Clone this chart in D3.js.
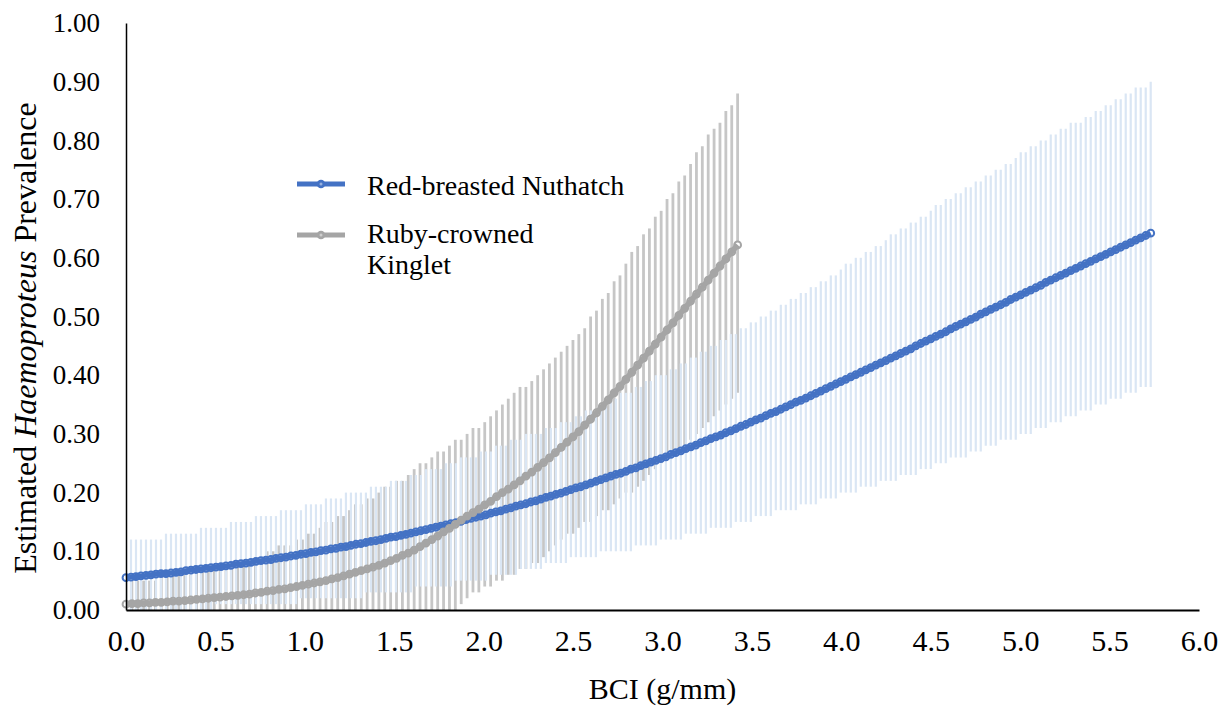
<!DOCTYPE html>
<html>
<head>
<meta charset="utf-8">
<script src="https://cdn.jsdelivr.net/npm/d3@7"></script>
<style>
  body { margin: 0; background: #fff; }
  text { font-family: "Liberation Serif", "Times New Roman", serif; fill: #000; }
</style>
</head>
<body>
<svg id="chart" width="1231" height="713"></svg>
<script>
// ---------------- data ----------------
const seriesNames = ["Red-breasted Nuthatch", "Ruby-crowned Kinglet"];
const xTickValues = [0, 0.5, 1, 1.5, 2, 2.5, 3, 3.5, 4, 4.5, 5, 5.5, 6];
const yTickValues = [0, 0.1, 0.2, 0.3, 0.4, 0.5, 0.6, 0.7, 0.8, 0.9, 1.0];
const xAxisTitle = "BCI (g/mm)";
const yAxisTitleParts = ["Estimated ", "Haemoproteus", " Prevalence"];

// evenly spaced BCI prediction grids: first and last BCI value of each series
const nuthatchBCIRange = [0, 5.73];
const kingletBCIRange = [0, 3.42];

const nuthatchMean = [
  .055,.056,.057,.058,.059,.060,.061,.062,.062,.063,.064,
  .065,.067,.068,.069,.070,.071,.072,.073,.074,.075,
  .076,.078,.079,.080,.081,.083,.084,.085,.086,.088,
  .089,.090,.092,.093,.095,.096,.098,.099,.101,.102,
  .104,.105,.107,.108,.110,.112,.113,.115,.117,.118,
  .120,.122,.124,.125,.127,.129,.131,.133,.135,.137,
  .139,.141,.143,.145,.147,.149,.151,.154,.156,.158,
  .160,.162,.165,.167,.169,.172,.174,.177,.179,.181,
  .184,.186,.189,.192,.194,.197,.199,.202,.205,.208,
  .210,.213,.216,.219,.222,.225,.228,.231,.233,.236,
  .240,.242,.246,.249,.252,.255,.258,.261,.265,.268,
  .271,.275,.278,.281,.285,.288,.292,.295,.298,.302,
  .305,.309,.313,.316,.320,.324,.327,.331,.335,.338,
  .342,.346,.350,.354,.357,.361,.365,.369,.373,.377,
  .381,.385,.389,.393,.397,.401,.405,.409,.413,.417,
  .421,.425,.429,.433,.437,.441,.445,.450,.454,.458,
  .462,.466,.470,.474,.479,.483,.487,.491,.495,.499,
  .504,.508,.512,.516,.520,.524,.529,.533,.537,.541,
  .545,.549,.553,.558,.562,.566,.570,.574,.578,.582,
  .586,.590,.594,.598,.602,.606,.610,.614,.618,.622,
  .626,.630,.634,.638,.642
];
const nuthatchUpper = [
  .11,
  .12,.12,.12,.12,.12,.12,.12,
  .13,.13,.13,.13,.13,.13,.13,
  .14,.14,.14,.14,.14,.14,
  .15,.15,.15,.15,.15,
  .16,.16,.16,.16,.16,
  .17,.17,.17,.17,.17,
  .18,.18,.18,.18,
  .19,.19,.19,.19,
  .20,.20,.20,.20,.20,
  .21,.21,.21,.21,
  .22,.22,.22,.22,
  .23,.23,.23,
  .24,.24,.24,.24,
  .25,.25,.25,
  .26,.26,.26,.26,
  .27,.27,.27,
  .28,.28,.28,
  .29,.29,.29,
  .30,.30,.30,.30,
  .31,.31,.31,
  .32,.32,.32,
  .33,.33,
  .34,.34,.34,
  .35,.35,
  .36,.36,
  .37,.37,.37,
  .38,.38,
  .39,.39,
  .40,.40,.40,
  .41,.41,.42,.42,.43,.43,.44,.44,.45,.45,.46,.46,.47,.47,.48,.48,.49,.49,
  .50,.50,.51,.51,.52,.52,.53,.53,.54,.54,.55,.55,.56,.56,.57,.57,
  .58,
  .59,.59,.60,.60,.61,.61,.62,.62,
  .63,
  .64,.64,.65,.65,.66,.66,.67,.67,
  .68,
  .69,.69,.70,.70,.71,.71,.72,.72,.73,.73,.74,.74,.75,.75,.76,.76,
  .77,
  .78,.78,.79,.79,.80,.80,.81,.81,.82,.82,
  .83,.83,.83,
  .84,.84,.85,.85,.86,.86,.87,.87,.88,.88,
  .89,.89,.89,
  .90
];
const nuthatchLower = [
  0,0,0,0,0,0,0,0,0,0,0,0,0,0,0,0,0,0,
  .01,.01,.01,.01,.01,.01,.01,.01,.01,.01,.01,.01,.01,.01,.01,.01,.01,
  .02,.02,.02,.02,.02,.02,.02,.02,.02,.02,.02,.02,.02,
  .03,.03,.03,.03,.03,.03,.03,.03,.03,.03,
  .04,.04,.04,.04,.04,.04,.04,.04,
  .05,.05,.05,.05,.05,.05,.05,
  .06,.06,.06,.06,.06,.06,
  .07,.07,.07,.07,.07,
  .08,.08,.08,.08,.08,
  .09,.09,.09,.09,.09,.09,
  .10,.10,.10,.10,.10,.10,.10,
  .11,.11,.11,.11,.11,
  .12,.12,.12,.12,.12,
  .13,.13,.13,.13,.13,
  .14,.14,.14,.14,.14,
  .15,.15,.15,.15,
  .16,.16,.16,.16,
  .17,.17,.17,.17,.17,
  .18,.18,.18,.18,
  .19,.19,.19,.19,
  .20,.20,.20,.20,
  .21,.21,.21,.21,
  .22,.22,.22,.22,
  .23,.23,.23,.23,
  .24,.24,.24,
  .25,.25,.25,
  .26,.26,.26,.26,
  .27,.27,.27,
  .28,.28,.28,
  .29,.29,.29,.29,
  .30,.30,.30,
  .31,.31,.31,
  .32,.32,.32,
  .33,.33,.33,
  .34,.34,.34,
  .35,.35,.35,
  .36,.36,.36,
  .37,.37,.37,
  .38,.38,.38
];

const kingletMean = [
  .010,.011,.011,.012,.012,.013,.013,.014,.015,.015,.016,
  .017,.018,.019,.020,.021,.022,.023,.024,.025,.026,
  .027,.029,.030,.032,.033,.035,.036,.038,.040,.042,
  .044,.046,.048,.050,.053,.055,.058,.061,.064,.067,
  .070,.073,.076,.080,.084,.088,.093,.097,.102,.108,
  .114,.120,.126,.133,.139,.146,.153,.160,.166,.172,
  .179,.185,.193,.200,.206,.213,.220,.228,.235,.243,
  .251,.259,.268,.277,.286,.295,.304,.315,.325,.336,
  .347,.358,.370,.381,.393,.405,.417,.429,.441,.453,
  .465,.477,.489,.502,.514,.526,.538,.550,.562,.574,
  .586,.598,.610,.622
];
const kingletUpper = [
  .05,.05,.05,.05,.05,.05,
  .06,.06,.06,.06,.06,.06,
  .07,.07,.07,.07,.07,.07,
  .08,.08,.08,.08,
  .09,.09,
  .10,.10,
  .11,.11,.11,
  .12,.12,
  .13,.13,.14,.15,.15,.16,.16,.17,.18,.18,.19,.19,.20,.21,.21,
  .22,.22,.23,.24,.25,.25,.26,.27,.27,.28,.29,.29,.30,.31,.31,
  .32,.33,.34,.35,.36,.37,.38,.38,.39,.40,
  .41,.42,.43,.44,.45,.46,.47,.48,.50,.51,
  .53,.54,.56,.57,.59,.61,.62,.64,.65,.67,
  .68,.70,.71,.73,.74,.76,.78,.79,.81,.82,
  .83,.85,.86,.88
];
const kingletLower = [
  0,0,0,0,0,0,0,0,0,0, 0,0,0,0,0,0,0,0,0,0,
  0,0,0,0,0,0,0,0,0,0, 0,0,0,0,0,0,0,0,0,0,
  0,0,0,0,0,0,0,0,0,0, 0,0,0,0,0,0,0,
  .01,.02,.03,.03,.04,.04,.05,.05,.06,.06,.07,.07,.08,.08,
  .09,.10,.11,.12,.13,.13,.14,.15,.15,.16,
  .17,.17,.18,.19,.20,.20,.21,.22,.23,.24,
  .25,.26,.27,.27,.28,.29,.30,.31,.32,.33,
  .34,.35,.36,.37
];

// ---------------- build records ----------------
function buildSeries(range, mean, lo, hi) {
  const grid = d3.scaleLinear().domain([0, mean.length - 1]).range(range);
  return mean.map((m, i) => ({ x: grid(i), y: m, lo: lo[i], hi: hi[i] }));
}
const nuthatch = buildSeries(nuthatchBCIRange, nuthatchMean, nuthatchLower, nuthatchUpper);
const kinglet = buildSeries(kingletBCIRange, kingletMean, kingletLower, kingletUpper);

// ---------------- chart ----------------
const svg = d3.select("#chart");
const W = 1231, H = 713;
const margin = { left: 126, right: 32, top: 23, bottom: 103 };
const x = d3.scaleLinear().domain([0, 6]).range([margin.left, W - margin.right]);
const y = d3.scaleLinear().domain([0, 1]).range([H - margin.bottom, margin.top]);

const colors = { nuthatch: "#4472c4", kinglet: "#a5a5a5", nuthatchBar: "#dae6f4", kingletBar: "#c6c6c6" };
const FS_YTICK = 27, FS_XTICK = 30, FS_LEGEND = 28, FS_XTITLE = 30, FS_YTITLE = 32;

svg.append("defs").append("clipPath").attr("id", "plotclip")
  .append("rect").attr("x", margin.left).attr("y", margin.top - 10)
  .attr("width", W - margin.right - margin.left + 10).attr("height", y(0) - margin.top + 10);

const plot = svg.append("g").attr("clip-path", "url(#plotclip)");

// error bars: kinglet below, nuthatch on top
plot.append("g").selectAll("line").data(kinglet).join("line")
  .attr("x1", d => x(d.x)).attr("x2", d => x(d.x))
  .attr("y1", d => y(d.lo)).attr("y2", d => y(d.hi))
  .attr("stroke", colors.kingletBar).attr("stroke-width", 2.8);
plot.append("g").selectAll("line").data(nuthatch).join("line")
  .attr("x1", d => x(d.x)).attr("x2", d => x(d.x))
  .attr("y1", d => y(d.lo)).attr("y2", d => y(d.hi))
  .attr("stroke", colors.nuthatchBar).attr("stroke-width", 2.2);

const line = d3.line().x(d => x(d.x)).y(d => y(d.y)).curve(d3.curveLinear);

function drawSeries(data, color, width) {
  const g = svg.append("g");
  g.selectAll("circle").data(data).join("circle")
    .attr("cx", d => x(d.x)).attr("cy", d => y(d.y)).attr("r", 3.4)
    .attr("fill", "#fff").attr("stroke", color).attr("stroke-width", 2);
  g.append("path").datum(data).attr("d", line)
    .attr("fill", "none").attr("stroke", color).attr("stroke-width", width);
}
drawSeries(nuthatch, colors.nuthatch, 5);
drawSeries(kinglet, colors.kinglet, 5.5);

// axes
const yAxis = d3.axisLeft(y).tickValues(yTickValues).tickSize(0).tickSizeOuter(0).tickPadding(26)
  .tickFormat(d3.format(".2f"));
const gy = svg.append("g").attr("transform", `translate(${margin.left},0)`).call(yAxis);
gy.select(".domain").attr("stroke", "#000").attr("stroke-width", 1.5);
gy.selectAll("text").attr("font-size", FS_YTICK).attr("font-family", "Liberation Serif");

const xAxis = d3.axisBottom(x).tickValues(xTickValues).tickSize(0).tickSizeOuter(0).tickPadding(20)
  .tickFormat(d3.format(".1f"));
const gx = svg.append("g").attr("transform", `translate(0,${y(0)})`).call(xAxis);
gx.select(".domain").attr("stroke", "#000").attr("stroke-width", 2);
gx.selectAll("text").attr("font-size", FS_XTICK).attr("font-family", "Liberation Serif");

// axis titles
svg.append("text").attr("x", (x(0) + x(6)) / 2).attr("y", 699)
  .attr("text-anchor", "middle").attr("font-size", FS_XTITLE).text(xAxisTitle);

const yt = svg.append("text")
  .attr("transform", `translate(36,338) rotate(-90)`)
  .attr("text-anchor", "middle").attr("font-size", FS_YTITLE);
yt.append("tspan").text(yAxisTitleParts[0]);
yt.append("tspan").attr("font-style", "italic").text(yAxisTitleParts[1]);
yt.append("tspan").text(yAxisTitleParts[2]);

// legend
const legend = svg.append("g");
const legendItems = [
  { name: seriesNames[0], color: colors.nuthatch, ly: 184, lines: ["Red-breasted Nuthatch"], ty: 195 },
  { name: seriesNames[1], color: colors.kinglet, ly: 235, lines: ["Ruby-crowned", "Kinglet"], ty: 243 }
];
legendItems.forEach(it => {
  legend.append("line").attr("x1", 297).attr("x2", 345).attr("y1", it.ly).attr("y2", it.ly)
    .attr("stroke", it.color).attr("stroke-width", 5);
  legend.append("circle").attr("cx", 321).attr("cy", it.ly).attr("r", 3.3)
    .attr("fill", it.color).attr("stroke", it.color).attr("stroke-width", 2);
  legend.append("circle").attr("cx", 321).attr("cy", it.ly).attr("r", 1.5)
    .attr("fill", "#fff").attr("opacity", 0.45);
  const t = legend.append("text").attr("x", 367).attr("y", it.ty).attr("font-size", FS_LEGEND);
  it.lines.forEach((s, k) => t.append("tspan").attr("x", 367).attr("dy", k === 0 ? 0 : 31).text(s));
});
</script>
</body>
</html>
